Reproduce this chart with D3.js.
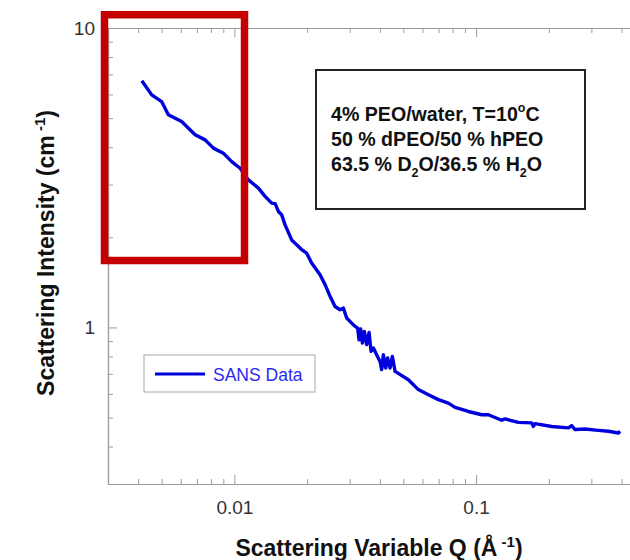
<!DOCTYPE html>
<html>
<head>
<meta charset="utf-8">
<script src="https://cdn.jsdelivr.net/npm/d3@7"></script>
<style>
body { margin: 0; background: #fff; }
svg { display: block; font-family: "Liberation Sans", Arial, Helvetica, sans-serif; }
</style>
</head>
<body>
<div class="chart"></div>
<script>
// SANS curve (Q in 1/A, I in 1/cm)
var qValues = [0.00414, 0.00455, 0.00500, 0.00533, 0.00605, 0.00688, 0.00757, 0.00819, 0.00900, 0.00975,
    0.01056, 0.01143, 0.01257, 0.01340, 0.01427, 0.01474, 0.01521, 0.01569, 0.01621, 0.01726,
    0.01810, 0.01898, 0.01991, 0.02088, 0.02262, 0.02373, 0.02488, 0.02609, 0.02737, 0.02825,
    0.02915, 0.03057, 0.03158, 0.03236, 0.03280, 0.03330, 0.03385, 0.03450, 0.03527, 0.03608,
    0.03678, 0.03759, 0.03878, 0.04007, 0.04068, 0.04135, 0.04227, 0.04308, 0.04408, 0.04505,
    0.04623, 0.05248, 0.05770, 0.06349, 0.06982, 0.07680, 0.08187, 0.09292, 0.10549, 0.11243,
    0.12762, 0.13183, 0.14962, 0.16989, 0.17266, 0.17547, 0.20553, 0.24094, 0.24860, 0.25680,
    0.28249, 0.32063, 0.35276, 0.38794, 0.39434];
var intensityValues = [6.67, 5.98, 5.68, 5.13, 4.87, 4.40, 4.23, 3.97, 3.82, 3.58,
    3.40, 3.11, 2.92, 2.74, 2.60, 2.59, 2.44, 2.38, 2.20, 1.96,
    1.89, 1.82, 1.77, 1.64, 1.50, 1.39, 1.27, 1.175, 1.146, 1.161,
    1.075, 1.034, 1.008, 0.995, 0.910, 0.988, 0.887, 0.970, 0.876, 0.962,
    0.832, 0.854, 0.811, 0.770, 0.723, 0.811, 0.732, 0.791, 0.732, 0.800,
    0.713, 0.669, 0.620, 0.596, 0.574, 0.559, 0.541, 0.524, 0.511, 0.511,
    0.490, 0.495, 0.482, 0.480, 0.467, 0.477, 0.467, 0.462, 0.470, 0.456,
    0.458, 0.453, 0.450, 0.444, 0.450];

var xDomain = [0.003, 0.5];
var yDomain = [0.3, 10];
var xMajorTicks = [0.01, 0.1];
var xMinorTicks = [0.004, 0.005, 0.006, 0.007, 0.008, 0.009,
    0.02, 0.03, 0.04, 0.05, 0.06, 0.07, 0.08, 0.09, 0.2, 0.3, 0.4];
var yMajorTicks = [1, 10];
var yMinorTicks = [0.4, 0.5, 0.6, 0.7, 0.8, 0.9, 2, 3, 4, 5, 6, 7, 8, 9];

var seriesName = "SANS Data";
// each note line is a list of [text, kind] pieces, kind: "", "sup" or "sub"
var noteLines = [
    [["4% PEO/water, T=10", ""], ["o", "sup"], ["C", ""]],
    [["50 % dPEO/50 % hPEO", ""]],
    [["63.5 % D", ""], ["2", "sub"], ["O/36.5 % H", ""], ["2", "sub"], ["O", ""]]
];

function addPieces(textSel, pieces, small) {
    var shift = 0;
    pieces.forEach(function (p) {
        var want = p[1] === "sup" ? -9 : (p[1] === "sub" ? 6 : 0);
        var ts = textSel.append("tspan").text(p[0]).attr("dy", want - shift);
        if (p[1] !== "") ts.attr("font-size", small);
        shift = want;
    });
}

function drawChart() {
    var w = 630;
    var h = 560;
    var left = 108, right = 645, top = 28, bottom = 484;
    var axisColor = "#9c9c9c";

    var svg = d3.select(".chart")
        .append("svg")
        .attr("width", w)
        .attr("height", h);

    var x = d3.scaleLog().domain(xDomain).range([left, right]);
    var y = d3.scaleLog().domain(yDomain).range([bottom, top]);

    var data = qValues.map(function (q, i) { return { q: q, i: intensityValues[i] }; });

    function styleAxis(g) {
        g.select(".domain").attr("stroke", axisColor).attr("stroke-width", 1.2);
        g.selectAll(".tick line").attr("stroke", axisColor).attr("stroke-width", 1);
        g.selectAll(".tick text").attr("fill", "#333").attr("font-size", 19);
    }

    // bottom
    svg.append("g")
        .attr("transform", "translate(0," + bottom + ")")
        .call(d3.axisBottom(x).tickValues(xMajorTicks).tickSize(-9).tickSizeOuter(0)
            .tickPadding(17).tickFormat(function (d) { return String(d); }))
        .call(styleAxis);
    svg.append("g")
        .attr("transform", "translate(0," + bottom + ")")
        .call(d3.axisBottom(x).tickValues(xMinorTicks).tickSize(-5).tickSizeOuter(0).tickFormat(""))
        .call(styleAxis);

    // top
    svg.append("g")
        .attr("transform", "translate(0," + top + ")")
        .call(d3.axisTop(x).tickValues(xMajorTicks).tickSize(-9).tickSizeOuter(0).tickFormat(""))
        .call(styleAxis);
    svg.append("g")
        .attr("transform", "translate(0," + top + ")")
        .call(d3.axisTop(x).tickValues(xMinorTicks).tickSize(-5).tickSizeOuter(0).tickFormat(""))
        .call(styleAxis);

    // left
    svg.append("g")
        .attr("transform", "translate(" + left + ",0)")
        .call(d3.axisLeft(y).tickValues(yMajorTicks).tickSize(-9).tickSizeOuter(0)
            .tickPadding(13).tickFormat(function (d) { return String(d); }))
        .call(styleAxis);
    svg.append("g")
        .attr("transform", "translate(" + left + ",0)")
        .call(d3.axisLeft(y).tickValues(yMinorTicks).tickSize(-5).tickSizeOuter(0).tickFormat(""))
        .call(styleAxis);

    // right (falls just outside the picture)
    svg.append("g")
        .attr("transform", "translate(" + right + ",0)")
        .call(d3.axisRight(y).tickValues(yMajorTicks.concat(yMinorTicks)).tickSize(-5).tickSizeOuter(0).tickFormat(""))
        .call(styleAxis);

    // data
    var line = d3.line()
        .x(function (d) { return x(d.q); })
        .y(function (d) { return y(d.i); });

    svg.append("path")
        .datum(data)
        .attr("fill", "none")
        .attr("stroke", "#0000dc")
        .attr("stroke-width", 3.4)
        .attr("stroke-linejoin", "round")
        .attr("d", line);

    // axis titles
    var yTitle = svg.append("text")
        .attr("transform", "translate(54,253) rotate(-90)")
        .attr("text-anchor", "middle")
        .attr("font-weight", "bold")
        .attr("font-size", 23)
        .attr("fill", "#111");
    addPieces(yTitle, [["Scattering Intensity (cm", ""], [" -1", "sup"], [")", ""]], 15);

    var xTitle = svg.append("text")
        .attr("x", 379)
        .attr("y", 556)
        .attr("text-anchor", "middle")
        .attr("font-weight", "bold")
        .attr("font-size", 23)
        .attr("fill", "#111");
    addPieces(xTitle, [["Scattering Variable Q (\u00c5", ""], [" -1", "sup"], [")", ""]], 15);

    // legend
    var legend = svg.append("g");
    legend.append("rect")
        .attr("x", 144).attr("y", 355)
        .attr("width", 171).attr("height", 37)
        .attr("fill", "#fff")
        .attr("stroke", "#a8a8a8")
        .attr("stroke-width", 1);
    legend.append("line")
        .attr("x1", 155).attr("x2", 205)
        .attr("y1", 374).attr("y2", 374)
        .attr("stroke", "#0000dc")
        .attr("stroke-width", 3);
    legend.append("text")
        .text(seriesName)
        .attr("x", 213).attr("y", 381)
        .attr("font-size", 17.5)
        .attr("fill", "#2a2aee");

    // note box
    var note = svg.append("g");
    note.append("rect")
        .attr("x", 316).attr("y", 70)
        .attr("width", 269).attr("height", 139)
        .attr("fill", "#fff")
        .attr("stroke", "#222")
        .attr("stroke-width", 2);
    noteLines.forEach(function (pieces, k) {
        var t = note.append("text")
            .attr("x", 331)
            .attr("y", 120.5 + k * 25.3)
            .attr("font-weight", "bold")
            .attr("font-size", 19.6)
            .attr("fill", "#111");
        addPieces(t, pieces, 12.5);
    });

    // red highlight frame
    svg.append("rect")
        .attr("x", 104.5).attr("y", 14.7)
        .attr("width", 140).attr("height", 245.8)
        .attr("fill", "none")
        .attr("stroke", "#c40000")
        .attr("stroke-width", 7.5);
}

drawChart();
</script>
</body>
</html>
